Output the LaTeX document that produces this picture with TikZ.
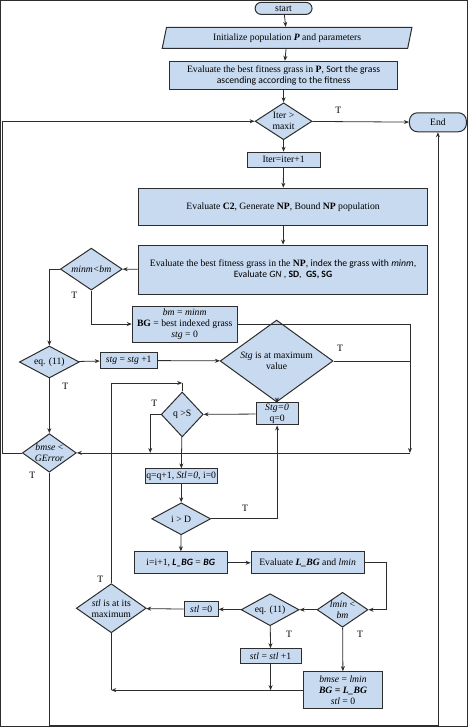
\documentclass[tikz,border=0pt]{standalone}
\usepackage{fontspec}
\setmainfont{Liberation Serif}
\newfontfamily\calib{Carlito}
\usetikzlibrary{arrows.meta,shapes.geometric}
\definecolor{boxfill}{RGB}{200,218,240}
\definecolor{boxline}{RGB}{45,45,45}

\begin{document}
\begin{tikzpicture}[x=1pt, y=-1pt, >={Stealth[length=5pt,width=4pt]},
  font=\fontsize{9.7}{11}\selectfont,
  every node/.style={inner sep=0pt, align=center},
  sz/.style 2 args={minimum width=#1pt, minimum height=#2pt},
  blk/.style={draw=boxline, fill=boxfill, line width=1pt},
  dec/.style={blk, diamond, inner sep=-2pt},
  term/.style={blk, rounded corners=6pt},
  every path/.append style={line width=0.8pt, draw=boxline}]
  \useasboundingbox (0,0) rectangle (468,727);
  \node[term, sz={57}{12}] (start) at (283.5,8) {start};
  \node[blk, trapezium, trapezium stretches body, trapezium left angle=64, trapezium right angle=116, sz={250}{21}] (init) at (287,37.5) {Initialize population \textbf{\textit{P}} and parameters};
  \node[blk, sz={229}{28}] (sort) at (283.5,75) {Evaluate the best fitness grass in \textbf{P}, {\calib Sort the grass}\\ {\calib ascending according to the fitness}};
  \node[dec, sz={57}{37}] (iter) at (283.5,121) {Iter >\\ maxit};
  \node[term, rounded corners=8pt, sz={57}{19}] (end) at (438,122) {End};
  \node[blk, sz={73}{15}] (inc) at (283.5,159.5) {Iter=iter+1};
  \node[blk, sz={290}{37}] (gen) at (283,206.5) {Evaluate \textbf{C2}, Generate \textbf{NP}, Bound \textbf{NP} population};
  \node[blk, sz={290}{49}] (best) at (283,269.5) {Evaluate the best fitness grass in the \textbf{NP}, {\calib index the grass with \textit{minm},}\\ {\calib Evaluate \textit{GN} , \textbf{SD}, \ \textbf{GS, SG}}};
  \node[dec, sz={62}{42}] (cmp) at (91,269) {\textit{minm<bm}};
  \node[blk, sz={105}{36}] (upd) at (184.5,324) {\textit{bm} = \textit{minm}\\ \textbf{BG} = best indexed grass\\ \textit{stg} = 0};
  \node[dec, sz={60}{32}] (eqa) at (49,362) {eq. (11)};
  \node[blk, sz={57}{17}] (stginc) at (128.5,360.5) {\textit{stg} = \textit{stg} +1};
  \node[dec, sz={113}{46}] (stgmax) at (276.5,361) {\textit{Stg} is at maximum\\ value};
  \node[dec, sz={54}{34}] (bmse) at (49,453) {\textit{bmse} <\\ \textit{GError}};
  \node[blk, sz={42}{22}] (reset) at (277,414) {\textit{Stg=0}\\ q=0};
  \node[dec, sz={42}{45}] (qs) at (182,414.5) {q >S};
  \node[blk, sz={72}{15}] (qinc) at (181,476.5) {q=q+1, \textit{Stl=0}, i=0};
  \node[dec, sz={59}{32}] (id) at (181,519) {i > D};
  \node[blk, sz={93}{22}] (iinc) at (180.5,563) {i=i+1, {\calib\bfseries\itshape L\_BG} = {\calib\bfseries\itshape BG}};
  \node[blk, sz={113}{22}] (evl) at (307.5,563) {Evaluate \textbf{\textit{L\_BG}} and \textit{lmin}};
  \node[dec, sz={51}{34}] (lmin) at (342.5,610) {\textit{lmin} <\\ \textit{bm}};
  \node[dec, sz={58}{32}] (eqb) at (270,610) {eq. (11)};
  \node[blk, sz={34}{15}] (stlz) at (201,609.5) {\textit{stl} =0};
  \node[dec, sz={70}{41}] (stlmax) at (111,608.5) {\textit{stl} is at its\\ maximum};
  \node[blk, sz={61}{15}] (stlinc) at (270.5,656.5) {\textit{stl} = \textit{stl} +1};
  \node[blk, sz={80}{37}] (fin) at (343,690.5) {\textit{bmse} = \textit{lmin}\\ \textbf{\textit{BG = L\_BG}}\\ \textit{stl} = 0};
  \coordinate (j1) at (270.5,690.5);
  \coordinate (j2) at (111,690.5);
  \coordinate (j3) at (182,383);
  \coordinate (j4) at (150,453);
  \coordinate (j5) at (410,453);
  \draw[->] (start)--(init);
  \draw[->] (init)--(sort);
  \draw[->] (sort)--(iter);
  \draw[->] (iter)--(end) node[pos=0.27,above=8pt] (t1) {T};
  \draw[->] (iter)--(inc);
  \draw[->] (inc)--(gen);
  \draw[->] (gen)--(best);
  \draw[->] (best)--(cmp);
  \draw[->] (cmp.west) -| (eqa.north);
  \draw[->] (cmp.south) |- (upd.west);
  \node (t2) at (74,295) {T};
  \draw[->] (eqa)--(stginc);
  \draw[->] (stginc)--(stgmax);
  \draw[->] (eqa)--(bmse);
  \node (t3) at (65,386) {T};
  \draw[->] (upd.east) -| (j5);
  \draw (stgmax.east) -- (stgmax.east -| j5);
  \node (t4) at (340,348) {T};
  \draw[->] (j5)--(bmse.east);
  \draw[->] (bmse.west) -- ++(-19,0) |- (iter.west);
  \draw[->] (bmse.south) -- (49,726) -| (end.south);
  \node (t5) at (32,475) {T};
  \draw[->] (stgmax)--(reset);
  \draw[->] (reset)--(qs);
  \draw[->] (qs.west) -| (j4);
  \node (t6) at (154,403) {T};
  \draw[->] (qs)--(qinc);
  \draw[->] (qinc)--(id);
  \draw[->] (id.east) -| (reset.south);
  \node (t7) at (245,508) {T};
  \draw[->] (id)--(iinc);
  \draw[->] (iinc)--(evl);
  \draw[->] (evl.east) -- ++(22,0) |- (lmin.east);
  \draw[->] (lmin)--(eqb);
  \draw[->] (eqb)--(stlz);
  \draw[->] (stlz)--(stlmax);
  \draw[->] (eqb)--(stlinc);
  \node (t8) at (289,635) {T};
  \draw[->] (lmin)--(fin);
  \node (t9) at (360,635) {T};
  \draw[->] (stlinc)--(j1);
  \draw[->] (fin.west)--(j2);
  \draw (stlmax.south)--(j2);
  \draw[->] (stlmax.north) |- (j3);
  \draw (j3)--(qs.north);
  \node (t10) at (100,580) {T};
\end{tikzpicture}
\end{document}
